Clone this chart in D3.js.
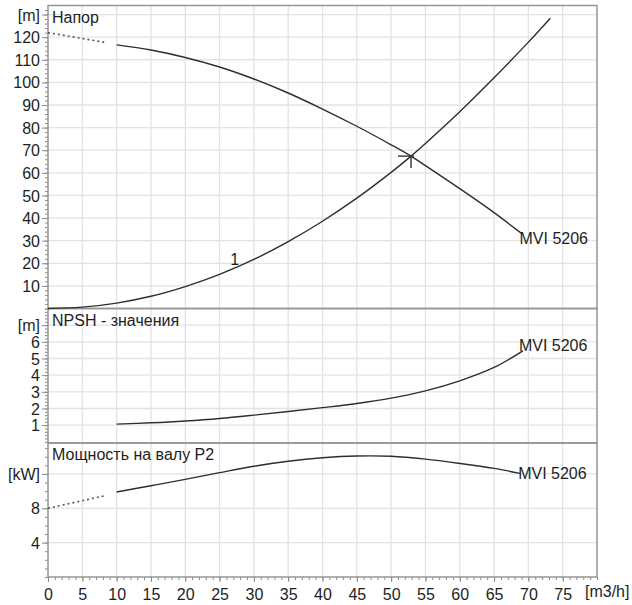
<!DOCTYPE html>
<html>
<head>
<meta charset="utf-8">
<script src="https://cdn.jsdelivr.net/npm/d3@7"></script>
<style>
  html, body { margin: 0; padding: 0; background: #fff; }
  svg { display: block; }
  text { font-family: "Liberation Sans", Arial, sans-serif; font-size: 16px; fill: #1e1e1e; }
</style>
</head>
<body>
<svg id="chart" width="632" height="605"></svg>
<script>
// Flow axis
const flowTicks = [0, 5, 10, 15, 20, 25, 30, 35, 40, 45, 50, 55, 60, 65, 70, 75];
const flowUnit = "[m3/h]";

// Head (Напор) — pump curve
const headDotQ = [0, 8.5];
const headDotH = [122, 117.6];
const headQ = [10, 15, 20, 25, 30, 35, 40, 45, 50, 53, 55, 60, 65, 69];
const headH = [116.6, 114.3, 111, 106.8, 101.5, 95.3, 88.2, 80.6, 72.4, 67.2, 63.2, 53, 42.4, 33.2];

// System curve "1"
const sysQ = [0, 5, 10, 15, 20, 25, 30, 35, 40, 45, 50, 52.9, 55, 60, 65, 70, 73.2];
const sysH = [0, 0.6, 2.4, 5.4, 9.7, 15.1, 21.7, 29.6, 38.6, 48.8, 60.2, 67.4, 73, 87, 102, 117.8, 128.4];
const sysLabel = { text: "1", q: 27.2, h: 19.4 };

// Duty point
const dutyQ = 52.9;
const dutyH = 67.4;

// NPSH
const npshQ = [10, 15, 20, 25, 30, 35, 40, 45, 50, 55, 60, 65, 69.2];
const npshV = [1.06, 1.14, 1.25, 1.4, 1.6, 1.82, 2.05, 2.3, 2.62, 3.06, 3.66, 4.46, 5.46];

// Shaft power P2
const p2DotQ = [0, 8.5];
const p2DotV = [8.0, 9.5];
const p2Q = [10, 15, 20, 25, 30, 35, 40, 45, 50, 55, 60, 65, 68.8];
const p2V = [9.9, 10.62, 11.36, 12.15, 12.9, 13.48, 13.88, 14.08, 14.05, 13.72, 13.22, 12.64, 12.06];

// Panel titles, units and ticks
const headTitle = "Напор";
const headUnit = "[m]";
const headTicks = [10, 20, 30, 40, 50, 60, 70, 80, 90, 100, 110, 120, 130];
const npshTitle = "NPSH - значения";
const npshUnit = "[m]";
const npshTicks = [1, 2, 3, 4, 5, 6, 7];
const p2Title = "Мощность на валу P2";
const p2Unit = "[kW]";
const p2Ticks = [4, 8, 12];
const pumpName = "MVI 5206";

const svg = d3.select("#chart");
const left = 48, right = 597;
const x = d3.scaleLinear().domain([0, 80]).range([left, right]);

const panels = [
  { top: 5.5, bottom: 308.5, y: d3.scaleLinear().domain([0, 134]).range([308.5, 5.5]),
    ticks: headTicks, minor: d3.range(0, 134, 2), unit: headUnit, title: headTitle },
  { top: 308.5, bottom: 443, y: d3.scaleLinear().domain([0, 8]).range([441.8, 308.5]),
    ticks: npshTicks, minor: d3.range(0, 8.01, 0.2), unit: npshUnit, title: npshTitle },
  { top: 443, bottom: 577, y: d3.scaleLinear().domain([0, 15.6]).range([577, 443]),
    ticks: p2Ticks, minor: d3.range(0, 15.6, 1), unit: p2Unit, title: p2Title }
];

const gridColor = "#e3e3e3";
const frameColor = "#959595";
const curveColor = "#2e2e2e";
const fontFamily = "Liberation Sans, Arial, sans-serif";

// vertical grid through all panels
svg.append("g").selectAll("line").data(flowTicks.filter(d => d > 0)).join("line")
  .attr("x1", d => x(d)).attr("x2", d => x(d))
  .attr("y1", panels[0].top).attr("y2", panels[2].bottom)
  .attr("stroke", gridColor).attr("stroke-width", 1.3);

panels.forEach(p => {
  // horizontal grid
  svg.append("g").selectAll("line").data(p.ticks.filter(t => p.y(t) > p.top + 1)).join("line")
    .attr("x1", left).attr("x2", right)
    .attr("y1", d => p.y(d)).attr("y2", d => p.y(d))
    .attr("stroke", gridColor).attr("stroke-width", 1.3);

  // minor ticks
  const minorAxis = d3.axisLeft(p.y).tickValues(p.minor.filter(v => p.y(v) >= p.top && p.y(v) <= p.bottom))
    .tickSize(3).tickFormat("");
  const gm = svg.append("g").attr("transform", `translate(${left},0)`).call(minorAxis);
  gm.select(".domain").remove();
  gm.selectAll("line").attr("stroke", "#8a8a8a");

  // major ticks with labels; the top tick carries the unit
  const topTick = p.ticks[p.ticks.length - 1];
  const majorAxis = d3.axisLeft(p.y).tickValues(p.ticks).tickSize(6).tickPadding(2)
    .tickFormat(d => d === topTick ? p.unit : d);
  const ga = svg.append("g").attr("transform", `translate(${left},0)`).call(majorAxis);
  ga.select(".domain").remove();
  ga.selectAll("line").attr("stroke", "#8a8a8a");
  ga.selectAll("text").attr("font-size", 16).attr("font-family", fontFamily)
    .attr("fill", "#1e1e1e").attr("dy", "0.35em");

  // title
  svg.append("text").attr("x", left + 4).attr("y", p.top + 17).text(p.title);
});

// x axis
const gxMinor = svg.append("g").attr("transform", `translate(0,${panels[2].bottom})`)
  .call(d3.axisBottom(x).tickValues(d3.range(0, 81, 1)).tickSize(3).tickFormat(""));
gxMinor.select(".domain").remove();
gxMinor.selectAll("line").attr("stroke", "#8a8a8a");
const gx = svg.append("g").attr("transform", `translate(0,${panels[2].bottom})`)
  .call(d3.axisBottom(x).tickValues(flowTicks).tickSize(5).tickPadding(4).tickFormat(d => d));
gx.select(".domain").remove();
gx.selectAll("line").attr("stroke", "#8a8a8a");
gx.selectAll("text").attr("font-size", 16).attr("font-family", fontFamily)
  .attr("fill", "#1e1e1e").attr("dy", "0.9em");
svg.append("text").attr("x", x(80) - 12).attr("y", 597).text(flowUnit);

// frames
panels.forEach(p => {
  svg.append("rect").attr("x", left).attr("y", p.top).attr("width", right - left).attr("height", p.bottom - p.top)
    .attr("fill", "none").attr("stroke", frameColor).attr("stroke-width", 1.5);
});

function curve(qs, vs, yScale, dashed) {
  const pts = qs.map((q, i) => [x(q), yScale(vs[i])]);
  svg.append("path").attr("d", d3.line().curve(d3.curveCatmullRom.alpha(0.5))(pts))
    .attr("fill", "none").attr("stroke", dashed ? "#555" : curveColor)
    .attr("stroke-width", dashed ? 1.6 : 1.4)
    .attr("stroke-dasharray", dashed ? "2,3" : null);
}

const yH = panels[0].y, yN = panels[1].y, yP = panels[2].y;

curve(headDotQ, headDotH, yH, true);
curve(headQ, headH, yH, false);
curve(sysQ, sysH, yH, false);
curve(npshQ, npshV, yN, false);
curve(p2DotQ, p2DotV, yP, true);
curve(p2Q, p2V, yP, false);

// duty point marker
const dx = x(dutyQ), dy = yH(dutyH);
svg.append("line").attr("x1", dx - 13).attr("x2", dx + 3).attr("y1", dy).attr("y2", dy)
  .attr("stroke", "#333").attr("stroke-width", 1.4);
svg.append("line").attr("x1", dx).attr("x2", dx).attr("y1", dy).attr("y2", dy + 12)
  .attr("stroke", "#333").attr("stroke-width", 1.4);

// system curve label
svg.append("text").attr("x", x(sysLabel.q)).attr("y", yH(sysLabel.h)).attr("text-anchor", "middle").text(sysLabel.text);

// pump name labels at curve ends
const last = a => a[a.length - 1];
svg.append("text").attr("x", x(last(headQ)) - 2).attr("y", yH(last(headH)) + 11).text(pumpName);
svg.append("text").attr("x", x(last(npshQ)) - 4).attr("y", yN(last(npshV)) + 0.5).text(pumpName);
svg.append("text").attr("x", x(last(p2Q)) - 2).attr("y", yP(last(p2V)) + 6).text(pumpName);
</script>
</body>
</html>
